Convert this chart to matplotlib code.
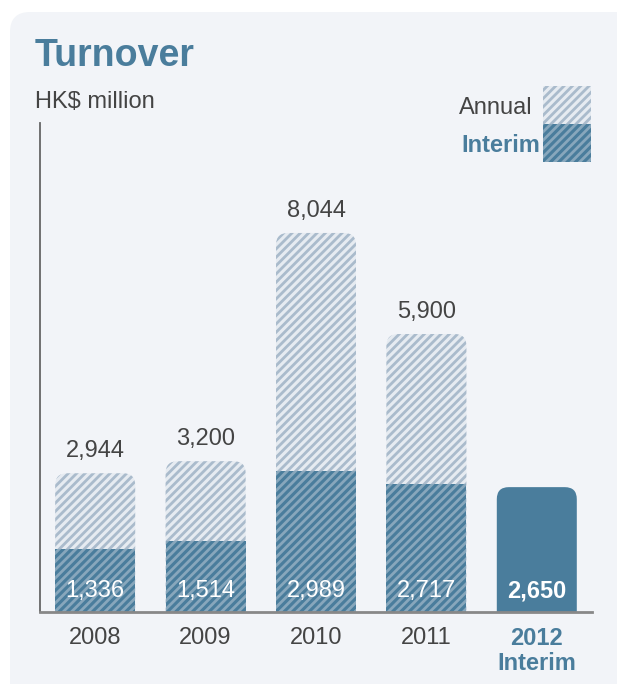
import matplotlib
matplotlib.use("Agg")
import matplotlib.pyplot as plt
from matplotlib.patches import FancyBboxPatch, Rectangle

years = ["2008", "2009", "2010", "2011", "2012\nInterim"]
annual = [2944, 3200, 8044, 5900]
interim = [1336, 1514, 2989, 2717, 2650]

BLUE = "#4a7d9c"
STRIPE_DARK = "#88a7bc"
LIGHT_BG = "#e6ebf1"
STRIPE_LIGHT = "#aabbcc"
TEXT = "#444444"

plt.rcParams["font.family"] = ["Liberation Sans", "DejaVu Sans"]
plt.rcParams["hatch.linewidth"] = 2.0

fig = plt.figure(figsize=(6.17, 6.84), dpi=100)

# background panel + header, drawn in pixel coordinates
bg = fig.add_axes([0, 0, 1, 1], zorder=-1)
bg.set_xlim(0, 617)
bg.set_ylim(684, 0)
bg.axis("off")
bg.add_patch(FancyBboxPatch((10, 12), 660, 720, boxstyle="round,pad=0,rounding_size=20",
                            facecolor="#f2f4f8", edgecolor="none"))
bg.text(35, 56, "Turnover", fontsize=27, fontweight="bold", color=BLUE, va="center")
bg.text(35, 102, "HK$ million", fontsize=17, color=TEXT, va="center")
bg.text(533, 108, "Annual", fontsize=17, color=TEXT, va="center", ha="right")
bg.text(540, 145, "Interim", fontsize=17, fontweight="bold", color=BLUE, va="center", ha="right")
bg.add_patch(Rectangle((543, 86), 48, 38, facecolor=LIGHT_BG, edgecolor=STRIPE_LIGHT,
                       hatch="////", linewidth=0))
bg.add_patch(Rectangle((543, 124), 48, 38, facecolor=BLUE, edgecolor=STRIPE_DARK,
                       hatch="////", linewidth=0))

ax = fig.add_axes([40 / 617, 72 / 684, 552 / 617, 489 / 684])
ax.set_facecolor("none")
ax.set_xlim(-0.5, 4.5)
ax.set_ylim(0, 10378)

# rounding radius of 12 px expressed in data units
px_x = ax.transData.transform((1, 0))[0] - ax.transData.transform((0, 0))[0]
px_y = ax.transData.transform((0, 1000))[1] - ax.transData.transform((0, 0))[1]
rx = 12 / px_x
ry = 12 / (px_y / 1000)
width = 80 / px_x


def rounded_bar(x, top, **kw):
    # extend below zero so only the top corners show as rounded
    p = FancyBboxPatch((x - width / 2, -ry * 2), width, top + ry * 2,
                       boxstyle=f"round,pad=0,rounding_size={rx}",
                       mutation_aspect=ry / rx, linewidth=0, **kw)
    ax.add_patch(p)


for i, v in enumerate(annual):
    rounded_bar(i, v, facecolor=LIGHT_BG, edgecolor=STRIPE_LIGHT, hatch="////")
    ax.add_patch(Rectangle((i - width / 2, 0), width, interim[i], facecolor=BLUE,
                           edgecolor=STRIPE_DARK, hatch="////", linewidth=0))
    ax.annotate(f"{v:,}", (i, v), xytext=(0, 16), textcoords="offset points",
                ha="center", va="center", fontsize=17, color=TEXT)
    ax.annotate(f"{interim[i]:,}", (i, 0), xytext=(0, 15), textcoords="offset points",
                ha="center", va="center", fontsize=17, color="white")

rounded_bar(4, interim[4], facecolor=BLUE, edgecolor="none")
ax.annotate(f"{interim[4]:,}", (4, 0), xytext=(0, 15), textcoords="offset points",
            ha="center", va="center", fontsize=17, color="white", fontweight="bold")

ax.set_xticks(range(len(years)), years)
ax.set_yticks([])
ax.tick_params(axis="x", length=0, pad=11, labelsize=17, labelcolor=TEXT)
last = ax.get_xticklabels()[-1]
last.set_fontweight("bold")
last.set_color(BLUE)
last.set_linespacing(1.1)

for s in ["top", "right"]:
    ax.spines[s].set_visible(False)
ax.spines["left"].set_color("#666666")
ax.spines["left"].set_linewidth(1.3)
ax.spines["bottom"].set_color("#888888")
ax.spines["bottom"].set_linewidth(2)

fig.savefig("out.png", dpi=100)
